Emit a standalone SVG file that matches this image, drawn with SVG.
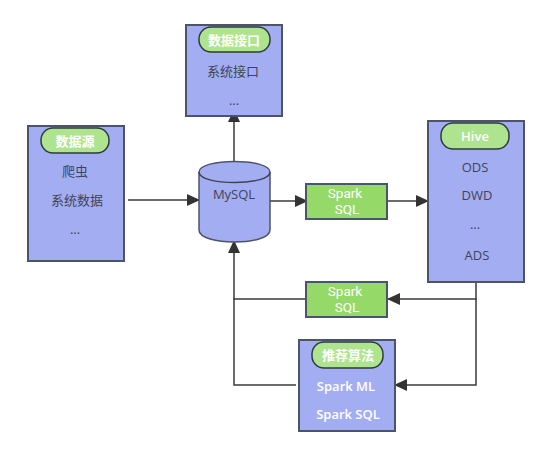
<svg xmlns="http://www.w3.org/2000/svg" width="552" height="456" viewBox="0 0 552 456">
<style>
text{font-family:"Open Sans","Noto Sans CJK SC",sans-serif;font-size:13px;text-anchor:middle}
.box{fill:#a3aef2;stroke:#4d5368;stroke-width:2}
.pill{fill:#aee48f;stroke:#2f3a3c;stroke-width:1.5}
.green{fill:#95da69;stroke:#4d5368;stroke-width:2}
.d{fill:#3f4358}
.w{fill:#fff}
.t{font-weight:600}
.s{font-family:Roboto,sans-serif;font-size:13.5px}
.c{fill:none;stroke:#3a3a3a;stroke-width:1.5}
</style>
<defs><marker id="a" markerUnits="userSpaceOnUse" markerWidth="13" markerHeight="12" refX="12" refY="6" orient="auto"><path d="M0 0L13 6L0 12z" fill="#333"/></marker></defs>
<rect width="552" height="456" fill="#fff"/>
<g id="connectors">
<path class="c" marker-end="url(#a)" d="M128 200H199"/>
<path class="c" marker-end="url(#a)" d="M234 161V110"/>
<path class="c" marker-end="url(#a)" d="M270 201H307"/>
<path class="c" marker-end="url(#a)" d="M388 201H428"/>
<path class="c" marker-end="url(#a)" d="M476 282V299H388"/>
<path class="c" marker-end="url(#a)" d="M476 299V385H395"/>
<path class="c" marker-end="url(#a)" d="M306 299H234V241"/>
<path class="c" d="M296 385H234V299"/>
</g>
<g id="data-interface"><rect class="box" x="186" y="25" width="96" height="91"/><rect class="pill" x="199" y="27" width="71" height="25" rx="12"/><text class="w t" x="234" y="45">数据接口</text><text class="d" x="233" y="76">系统接口</text><text class="d" x="234" y="105">...</text></g>
<g id="data-source"><rect class="box" x="28" y="126" width="96" height="135"/><rect class="pill" x="41" y="128" width="68" height="25" rx="12"/><text class="w t" x="75" y="146">数据源</text><text class="d" x="75" y="176">爬虫</text><text class="d" x="77" y="205">系统数据</text><text class="d" x="75" y="234">...</text></g>
<g id="mysql"><path class="box" style="stroke-width:1.5" d="M199 172C199 158 270 158 270 172V230C270 246 199 246 199 230Z"/><path class="c" style="stroke:#3f4358" d="M199 172C199 186 270 186 270 172"/><text class="d" x="234" y="199">MySQL</text></g>
<g id="spark-sql-1"><rect class="green" x="306" y="184" width="81" height="35"/><text class="w s" x="345" y="198">Spark</text><text class="w s" x="347" y="214">SQL</text></g>
<g id="hive"><rect class="box" x="428" y="121" width="96" height="161"/><rect class="pill" x="441" y="123" width="68" height="26" rx="12"/><text class="w t" x="475" y="141">Hive</text><text class="d" x="475" y="172">ODS</text><text class="d" x="477" y="200">DWD</text><text class="d" x="475" y="229">...</text><text class="d" x="477" y="260">ADS</text></g>
<g id="spark-sql-2"><rect class="green" x="306" y="282" width="81" height="35"/><text class="w s" x="345" y="296">Spark</text><text class="w s" x="347" y="312">SQL</text></g>
<g id="algorithm"><rect class="box" x="299" y="340" width="96" height="91"/><rect class="pill" x="312" y="342" width="71" height="26" rx="12"/><text class="w t" x="348" y="360">推荐算法</text><text class="w t" x="346" y="391">Spark ML</text><text class="w t" x="348" y="419">Spark SQL</text></g>
</svg>
